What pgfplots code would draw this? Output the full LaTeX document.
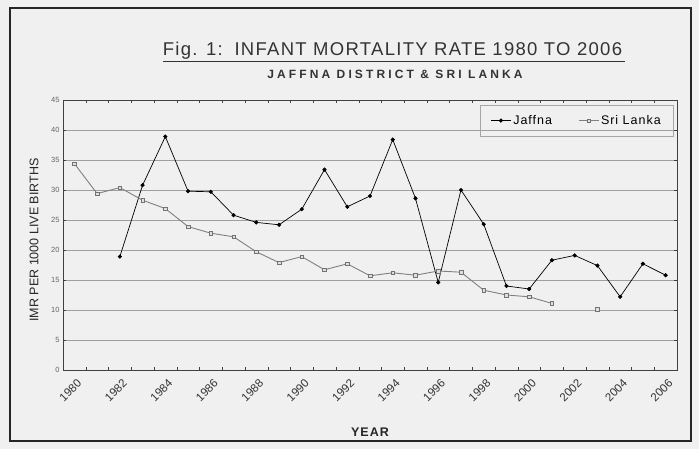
\documentclass[border=0pt]{standalone}
\usepackage{pgfplots}
\pgfplotsset{compat=1.18}
\usepackage{fontspec}
\setmainfont{Liberation Sans}
\begin{document}
\begin{tikzpicture}
\fill[gray!12] (0pt,0pt) rectangle (699pt,449pt);
\useasboundingbox (0pt,0pt) rectangle (699pt,449pt);
\draw[line width=1.4pt, black!85] (10pt,441pt) rectangle (691pt,8pt);
\begin{axis}[
  at={(63pt,79pt)}, anchor=south west,
  scale only axis, width=614pt, height=270pt,
  xmin=1979.5, xmax=2006.5, ymin=0, ymax=45,
  ytick={0,5,...,45},
  xtick={1980,1982,...,2006},
  minor xtick={1979.5,1980.5,...,2006.5},
  /pgf/number format/1000 sep={},
  /pgf/number format/assume math mode=true,
  xticklabel style={rotate=45, anchor=north east, font=\fontsize{11.5}{12}\selectfont, text=black!80, xshift=-1pt, yshift=-4pt},
  yticklabel style={font=\fontsize{7.5}{8}\selectfont, text=black!60},
  ymajorgrids,
  grid style={gray!75, line width=0.7pt},
  axis line style={black!75, line width=0.8pt},
  tick style={black!75},
  major tick length=3pt, minor tick length=3pt,
  xtick style={draw=none},
  minor x tick style={draw=black!75},
  unbounded coords=jump,
  legend style={at={(0.9935,0.981)}, anchor=north east, draw=gray!70, fill=none,
     font=\fontsize{12.5}{13}\selectfont\addfontfeatures{LetterSpace=8}, legend columns=2,
     /tikz/every even column/.append style={column sep=24pt}, inner xsep=10pt, inner ysep=8pt},
  legend image code/.code={\draw[#1] (0pt,0pt) -- (20pt,0pt); \draw[#1, only marks] plot coordinates {(10pt,0pt)};},
]
\addplot[black, line width=0.7pt, mark=*, mark size=1.7pt] coordinates {
(1982,18.9) (1983,30.8) (1984,38.9) (1985,29.8) (1986,29.7) (1987,25.8)
(1988,24.6) (1989,24.2) (1990,26.8) (1991,33.4) (1992,27.2) (1993,29.0)
(1994,38.4) (1995,28.6) (1996,14.6) (1997,30.0) (1998,24.3) (1999,14.0)
(2000,13.5) (2001,18.3) (2002,19.1) (2003,17.4) (2004,12.2) (2005,17.7)
(2006,15.8)};
\addlegendentry{Jaffna}
\addplot[black!50, line width=0.9pt, mark=square*, mark size=1.8pt, mark options={fill=gray!25, draw=black!55, line width=0.5pt}] coordinates {
(1980,34.4) (1981,29.4) (1982,30.4) (1983,28.3) (1984,26.9) (1985,23.9)
(1986,22.8) (1987,22.2) (1988,19.7) (1989,17.9) (1990,18.9) (1991,16.7)
(1992,17.7) (1993,15.7) (1994,16.2) (1995,15.8) (1996,16.5) (1997,16.3)
(1998,13.3) (1999,12.5) (2000,12.2) (2001,11.1) (2002,nan) (2003,10.1)};
\addlegendentry{Sri Lanka}
\end{axis}
\draw[black!75, line width=0.8pt] (677pt,79pt) -- (677pt,349pt);
\node[font=\fontsize{18.5}{19}\selectfont\addfontfeatures{LetterSpace=7}, text=black!80] at (394pt,397pt) {\underline{Fig. 1:\, INFANT MORTALITY RATE 1980 TO 2006\,}};
\node[font=\fontsize{12}{12}\selectfont\bfseries\addfontfeatures{LetterSpace=26}, text=black!80] at (395pt,375pt) {JAFFNA DISTRICT \& SRI LANKA};
\node[rotate=90, font=\fontsize{12.5}{13}\selectfont, text=black!85] at (34pt,209pt) {IMR PER 1000 LIVE BIRTHS};
\node[font=\fontsize{12.5}{13}\selectfont\bfseries\addfontfeatures{LetterSpace=8}, text=black!85] at (370pt,17pt) {YEAR};
\end{tikzpicture}
\end{document}
